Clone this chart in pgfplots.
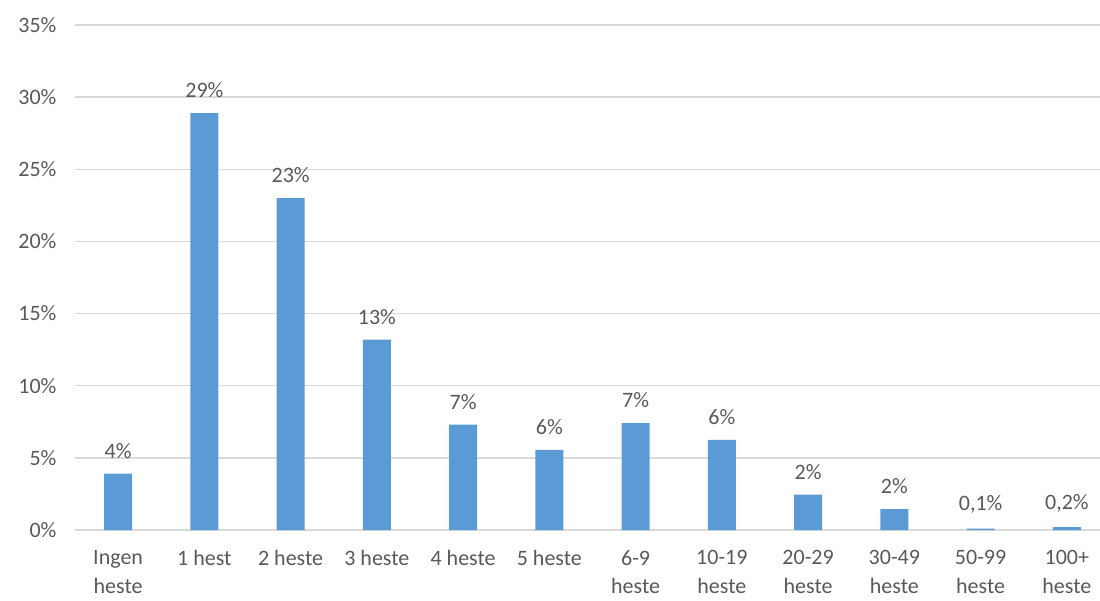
\documentclass[border=0pt]{standalone}
\usepackage{fontspec}
\setmainfont{Carlito}
\usepackage{pgfplots}
\pgfplotsset{compat=1.18}
\definecolor{barblue}{HTML}{5B9BD5}
\definecolor{txtgray}{HTML}{595959}
\definecolor{gridgray}{HTML}{D9D9D9}
\begin{document}
\begin{tikzpicture}
\begin{axis}[
	at={(0pt,0pt)}, anchor=south west,
	scale only axis,
	width=1035pt, height=505pt,
	xmin=-0.5, xmax=11.5,
	ymin=0, ymax=35,
	axis line style={draw=none},
	major tick length=0pt,
	ymajorgrids,
	grid style={gridgray, line width=1.3pt},
	ytick={0,5,10,15,20,25,30,35},
	yticklabels={0\%,5\%,10\%,15\%,20\%,25\%,30\%,35\%},
	xtick={0,...,11},
	xticklabels={Ingen\\heste,1 hest,2 heste,3 heste,4 heste,5 heste,6-9\\heste,10-19\\heste,20-29\\heste,30-49\\heste,50-99\\heste,100+\\heste},
	ticklabel style={font=\fontsize{22}{28.5}\selectfont, text=txtgray},
	xticklabel style={align=center, anchor=north, yshift=-17pt},
	yticklabel style={anchor=east, xshift=-15pt},
]
	\addplot[ybar, fill=barblue, draw=none, bar width=28pt,
		nodes near coords, point meta=explicit symbolic,
		every node near coord/.style={anchor=south, inner sep=0pt, yshift=15pt,
			font=\fontsize{22}{26}\selectfont, text=txtgray}]
	table[x=x, y=y, meta=lab] {
		x  y     lab
		0  3.9   4\%
		1  28.9  29\%
		2  23.0  23\%
		3  13.2  13\%
		4  7.3   7\%
		5  5.55  6\%
		6  7.4   7\%
		7  6.25  6\%
		8  2.45  2\%
		9  1.45  2\%
		10 0.1   0,1\%
		11 0.2   0,2\%
	};
\end{axis}
\pgfresetboundingbox
\useasboundingbox (-75pt,-70pt) rectangle (1025pt,530pt);
\end{tikzpicture}
\end{document}
